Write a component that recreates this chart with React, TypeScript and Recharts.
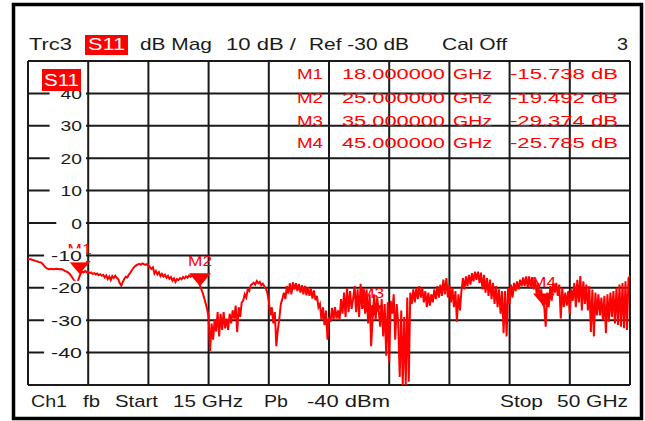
import React from "react";
import { LineChart, Line, XAxis, YAxis, CartesianGrid, ReferenceDot } from "recharts";

// sweep settings (as shown on the instrument)
const START_GHZ = 15;
const STOP_GHZ = 50;

// S11 trace in dB, 401 sweep points from start to stop
const S11_DB = [
  -11.1, -11.2, -11.2, -11.4, -11.5, -11.7, -11.8, -12.0, -12.1, -12.3,
  -12.8, -13.4, -13.9, -14.1, -14.3, -14.1, -14.2, -14.3, -14.2, -14.1,
  -14.2, -14.3, -14.2, -14.4, -14.6, -14.9, -15.1, -15.4, -15.9, -16.5,
  -17.3, -17.9, -18.3, -18.1, -16.8, -15.6, -15.0, -15.3, -14.8, -15.2,
  -15.0, -15.4, -15.3, -15.7, -15.5, -15.9, -15.6, -16.1, -15.8, -16.3,
  -16.0, -16.8, -16.2, -17.3, -16.5, -17.6, -16.4, -17.0, -16.3, -16.9,
  -17.4, -18.6, -19.3, -18.2, -17.2, -16.6, -16.8, -15.9, -15.3, -14.6,
  -13.9, -13.4, -13.0, -12.8, -12.6, -12.9, -12.5, -12.7, -12.9, -12.7,
  -13.1, -13.6, -14.2, -13.7, -15.6, -14.8, -15.9, -15.2, -16.4, -15.7,
  -16.5, -16.0, -16.9, -16.3, -17.2, -16.7, -17.8, -17.1, -18.2, -17.3,
  -17.6, -17.0, -17.4, -16.7, -17.1, -16.5, -16.9, -16.2, -16.6, -16.0,
  -16.4, -15.9, -16.6, -16.2, -18.8, -20.3, -21.5, -23.0, -24.8, -26.5,
  -29.0, -39.5, -31.0, -36.0, -30.0, -33.5, -27.5, -35.0, -28.0, -33.0,
  -27.5, -32.5, -29.5, -33.0, -28.0, -31.0, -27.0, -29.5, -25.5, -33.7,
  -26.0, -29.0, -24.5, -24.0, -22.0, -23.0, -20.5, -21.0, -19.2, -18.8,
  -18.4, -19.0, -17.9, -18.6, -18.2, -19.2, -18.7, -19.5, -20.1, -21.5,
  -24.0, -28.5, -26.0, -31.0, -27.5, -38.0, -33.0, -29.5, -25.0, -23.5,
  -21.5, -23.5, -19.5, -21.8, -18.6, -22.0, -18.3, -20.5, -18.6, -21.0,
  -18.8, -21.5, -19.2, -22.0, -19.4, -22.3, -19.8, -22.5, -20.3, -23.3,
  -20.8, -23.8, -22.5, -26.0, -25.0, -30.0, -26.0, -31.5, -27.0, -36.0,
  -29.0, -30.5, -26.2, -30.0, -26.0, -29.5, -27.0, -30.0, -23.5, -28.0,
  -21.5, -29.0, -20.0, -27.5, -21.0, -26.5, -23.5, -19.5, -27.5, -20.5,
  -29.0, -18.8, -26.5, -20.2, -28.0, -20.5, -31.0, -22.0, -38.0, -29.4,
  -22.0, -30.0, -23.0, -27.0, -32.0, -23.5, -35.0, -25.0, -41.0, -24.5,
  -43.0, -24.0, -28.0, -22.0, -36.0, -25.0, -31.0, -47.5, -27.0, -50.0,
  -29.0, -50.0, -23.0, -49.0, -21.5, -25.0, -20.5, -24.5, -20.0, -23.5,
  -19.5, -23.0, -20.0, -24.5, -21.0, -26.0, -21.5, -25.5, -22.0, -24.5,
  -20.5, -23.5, -19.5, -23.0, -19.0, -22.5, -17.5, -22.0, -17.0, -23.0,
  -19.0, -24.5, -20.0, -26.0, -21.0, -30.5, -22.0, -27.0, -21.0, -17.0,
  -20.5, -16.5, -19.5, -16.0, -19.0, -15.5, -18.0, -15.0, -17.5, -15.0,
  -18.5, -15.3, -20.5, -16.0, -21.5, -17.0, -22.5, -17.5, -23.5, -18.5,
  -25.0, -19.5, -26.0, -20.5, -28.0, -21.0, -34.0, -21.0, -35.0, -20.0,
  -25.0, -19.0, -23.0, -18.5, -21.0, -18.0, -20.5, -17.5, -19.5, -16.8,
  -19.5, -16.5, -19.8, -16.5, -20.0, -16.7, -20.5, -17.5, -22.0, -18.5,
  -23.5, -20.5, -25.0, -25.8, -32.0, -21.5, -26.0, -19.5, -24.0, -18.5,
  -21.5, -18.5, -22.5, -19.0, -29.5, -20.0, -26.0, -21.5, -25.5, -21.0,
  -28.0, -20.5, -24.0, -18.5, -26.0, -17.5, -24.5, -16.4, -27.0, -18.0,
  -25.0, -19.0, -27.0, -19.5, -33.6, -20.5, -35.0, -21.5, -28.5, -22.0,
  -28.5, -23.0, -30.0, -22.5, -34.0, -22.0, -30.5, -21.5, -29.0, -21.0,
  -31.0, -20.0, -31.5, -19.0, -32.0, -18.5, -32.5, -18.0, -33.0, -17.0,
  -16.4,
];

const MARKER_NAMES = ["M1", "M2", "M3", "M4"];
const MARKER_GHZ = [18, 25, 35, 45];
const MARKER_DB = [-15.738, -19.492, -29.374, -25.785];

const X_TICKS = [15, 18.5, 22, 25.5, 29, 32.5, 36, 39.5, 43, 46.5, 50];
const Y_TICKS = [-50, -40, -30, -20, -10, 0, 10, 20, 30, 40, 50];

const data = S11_DB.map((db, i) => ({
  f: START_GHZ + (i * (STOP_GHZ - START_GHZ)) / (S11_DB.length - 1),
  db,
}));

const RED = "#ff0000";
const INK = "#1a1a1a";
const FONT = "'Liberation Sans', Arial, sans-serif";

function YTick(props: any) {
  const { y, payload } = props;
  const v = payload.value;
  if (v === 50 || v === -50) return <g />;
  const label = String(v);
  const digits = label.replace("-", "").length;
  const w = digits * 10.7 + (v < 0 ? 9.5 : 0);
  const right = 82;
  const pad = 7 + (3 - label.length) * 4;
  return (
    <g>
      <rect x={right - w - pad} y={y - 7} width={w + pad + 4} height={14} fill="#fff" />
      <text x={right - w} y={y + 5.5} textLength={w} lengthAdjust="spacingAndGlyphs" fontSize={15} fill={INK} fontFamily={FONT}>
        {label}
      </text>
    </g>
  );
}

function MarkerShape(props: any) {
  const { cx, cy, name } = props;
  return (
    <g>
      <polygon points={`${cx - 11},${cy - 13} ${cx + 11},${cy - 13} ${cx},${cy}`} fill={RED} />
      <text x={cx - 12} y={cy - 20} textLength={24} lengthAdjust="spacingAndGlyphs" fill={RED} fontSize={15} fontFamily={FONT}>
        {name}
      </text>
    </g>
  );
}

// a word placed at x with a fixed width, like the instrument's wide screen font
function Word({ x, y, w, children, fill = INK, size = 17 }: any) {
  return (
    <text x={x} y={y} textLength={w} lengthAdjust="spacingAndGlyphs" fontSize={size} fill={fill} fontFamily={FONT}>
      {children}
    </text>
  );
}

export default function App() {
  return (
    <div style={{ position: "absolute", left: 0, top: 0, width: 645, height: 421, background: "#fff" }}>
      <LineChart width={645} height={421} data={data} margin={{ top: 61, right: 15, bottom: 36, left: 0 }}>
        <CartesianGrid stroke={INK} strokeWidth={2} />
        <XAxis dataKey="f" type="number" domain={[START_GHZ, STOP_GHZ]} ticks={X_TICKS} hide />
        <YAxis
          type="number"
          domain={[-50, 50]}
          ticks={Y_TICKS}
          interval={0}
          width={28}
          axisLine={false}
          tickLine={false}
          tick={<YTick />}
          allowDataOverflow
        />
        <Line dataKey="db" type="linear" stroke={RED} strokeWidth={2} dot={false} isAnimationActive={false} />
        {MARKER_NAMES.map((name, i) => (
          <ReferenceDot
            key={name}
            x={MARKER_GHZ[i]}
            y={MARKER_DB[i]}
            r={0}
            shape={(p: any) => <MarkerShape {...p} name={name} />}
          />
        ))}
      </LineChart>

      <svg width={645} height={421} style={{ position: "absolute", left: 0, top: 0, pointerEvents: "none" }}>
        <rect x={13.5} y={4.5} width={628} height={414} fill="none" stroke="#000" strokeWidth={3.5} />

        {/* header line */}
        <Word x={29} y={50} w={43}>Trc3</Word>
        <rect x={85} y={35} width={43} height={20} fill={RED} />
        <Word x={88} y={50} w={37} fill="#fff">S11</Word>
        <Word x={140} y={50} w={72}>dB Mag</Word>
        <Word x={226} y={50} w={70}>10 dB /</Word>
        <Word x={309} y={50} w={100}>Ref -30 dB</Word>
        <Word x={442} y={50} w={65}>Cal Off</Word>
        <Word x={617} y={50} w={11}>3</Word>

        {/* trace label in the plot */}
        <rect x={42} y={69} width={39} height={22} fill={RED} />
        <Word x={44} y={86} w={35} fill="#fff" size={16}>S11</Word>

        {/* marker table */}
        {MARKER_NAMES.map((name, i) => {
          const y = [79, 103, 126, 148][i];
          return (
            <g key={name}>
              <Word x={297} y={y} w={26} fill={RED} size={15.5}>{name}</Word>
              <Word x={342} y={y} w={103} fill={RED} size={15.5}>{MARKER_GHZ[i].toFixed(6)}</Word>
              <Word x={453} y={y} w={39} fill={RED} size={15.5}>GHz</Word>
              <Word x={510} y={y} w={108} fill={RED} size={15.5}>{`${MARKER_DB[i].toFixed(3)} dB`}</Word>
            </g>
          );
        })}

        {/* footer line */}
        <Word x={31} y={407} w={36}>Ch1</Word>
        <Word x={83} y={407} w={17}>fb</Word>
        <Word x={115} y={407} w={43}>Start</Word>
        <Word x={173} y={407} w={70}>15 GHz</Word>
        <Word x={264} y={407} w={24}>Pb</Word>
        <Word x={307} y={407} w={83}>-40 dBm</Word>
        <Word x={500} y={407} w={43}>Stop</Word>
        <Word x={557} y={407} w={71}>50 GHz</Word>
      </svg>
    </div>
  );
}
